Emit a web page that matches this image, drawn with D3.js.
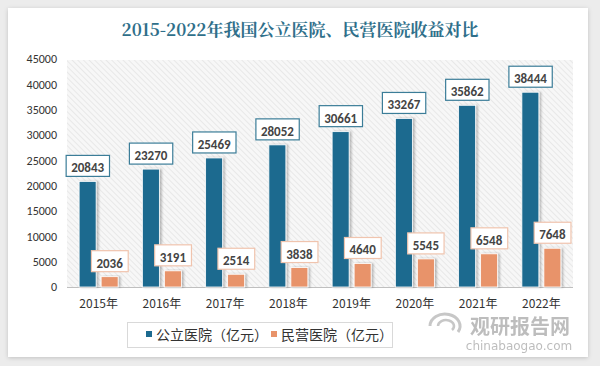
<!DOCTYPE html>
<html><head><meta charset="utf-8">
<script src="https://cdn.jsdelivr.net/npm/d3@7"></script>
<style>
html,body{margin:0;padding:0;background:#ececec;}
svg{display:block;}
</style></head>
<body>
<svg id="c" width="600" height="366"></svg>
<script>
const categories = ["2015年","2016年","2017年","2018年","2019年","2020年","2021年","2022年"];
const publicValues = [20843,23270,25469,28052,30661,33267,35862,38444];
const privateValues = [2036,3191,2514,3838,4640,5545,6548,7648];
const seriesNames = ["公立医院（亿元）","民营医院（亿元）"];
const yTicks = [0,5000,10000,15000,20000,25000,30000,35000,40000,45000];
const title = "2015-2022年我国公立医院、民营医院收益对比";

const svg = d3.select("#c");
const blue = "#1c6a8f", orange = "#e8936a";
const fontCN = "'Microsoft YaHei','Noto Sans CJK SC',sans-serif";

// card
const defs = svg.append("defs");
const f = defs.append("filter").attr("id","sh").attr("x","-10%").attr("y","-10%").attr("width","120%").attr("height","120%");
f.append("feDropShadow").attr("dx",0).attr("dy",1).attr("stdDeviation",2).attr("flood-color","#000").attr("flood-opacity",0.18);
svg.append("rect").attr("x",8).attr("y",8).attr("width",580).attr("height",349).attr("fill","#fff").attr("filter","url(#sh)");

// hatch pattern
const pat = defs.append("pattern").attr("id","hatch").attr("patternUnits","userSpaceOnUse").attr("width",4).attr("height",4).attr("patternTransform","rotate(-45)");
pat.append("rect").attr("width",4).attr("height",4).attr("fill","#f7f7f7");
pat.append("line").attr("x1",0).attr("y1",0).attr("x2",0).attr("y2",4).attr("stroke","#dedede").attr("stroke-width",1.2);

const bf = defs.append("filter").attr("id","bs").attr("x","-30%").attr("y","-10%").attr("width","160%").attr("height","120%");
bf.append("feDropShadow").attr("dx",2).attr("dy",0).attr("stdDeviation",1.2).attr("flood-color","#000").attr("flood-opacity",0.25);

const L = 67, R = 573, T = 59, B = 287;
svg.append("rect").attr("x",L).attr("y",T+1).attr("width",R-L).attr("height",B-T-1).attr("fill","url(#hatch)");

// title
svg.append("text").attr("x",300).attr("y",36).attr("text-anchor","middle")
  .attr("font-family","'Noto Serif CJK SC','Noto Sans CJK SC',serif").attr("font-weight","bold")
  .attr("font-size",17).attr("fill","#2f6f8a").text(title);

const x = d3.scaleBand().domain(categories).range([L,R]);
const y = d3.scaleLinear().domain([0,45000]).range([B,T]);
const bw = 17, gap = 5;

// y axis
const ya = svg.append("g").attr("transform",`translate(${L-4},0)`)
  .call(d3.axisLeft(y).tickValues(yTicks).tickSize(0).tickPadding(6).tickFormat(d3.format("d")));
ya.select(".domain").remove();
ya.selectAll("text").attr("font-family","Calibri,'Liberation Sans','Noto Sans',sans-serif").attr("font-size",12).attr("fill","#333");

// baseline
svg.append("line").attr("x1",L).attr("x2",R).attr("y1",B+0.5).attr("y2",B+0.5).attr("stroke","#bfbfbf");

// x axis
const xa = svg.append("g").attr("transform",`translate(0,${B})`)
  .call(d3.axisBottom(x).tickSize(0).tickPadding(12));
xa.select(".domain").remove();
xa.selectAll("text").attr("font-family",fontCN).attr("font-size",12).attr("fill","#333");

const cx = c => x(c) + x.bandwidth()/2;

// bars
svg.selectAll(".pb").data(categories).enter().append("rect")
  .attr("x",c=>cx(c)-gap/2-bw).attr("width",bw)
  .attr("y",(c,i)=>y(publicValues[i])).attr("height",(c,i)=>B-y(publicValues[i]))
  .attr("fill",blue).attr("stroke","#fff").attr("stroke-width",0.8).attr("filter","url(#bs)");
svg.selectAll(".ob").data(categories).enter().append("rect")
  .attr("x",c=>cx(c)+gap/2).attr("width",bw)
  .attr("y",(c,i)=>y(privateValues[i])).attr("height",(c,i)=>B-y(privateValues[i]))
  .attr("fill",orange).attr("stroke","#fff").attr("stroke-width",0.8).attr("filter","url(#bs)");

// labels
function label(px, val, border){
  const g = svg.append("g");
  const t = g.append("text").attr("x",px).attr("y",y(val)-9).attr("text-anchor","middle")
    .attr("font-family","Calibri,'Liberation Sans','Noto Sans',sans-serif").attr("font-weight","bold")
    .attr("font-size",13).attr("fill","#444").text(val);
  const bb = t.node().getBBox();
  g.insert("rect","text").attr("x",bb.x-5).attr("y",y(val)-26).attr("width",bb.width+10).attr("height",21)
    .attr("fill","#fff").attr("stroke",border).attr("stroke-width",1.2);
}
categories.forEach((c,i)=>{
  label(cx(c)-gap/2-bw/2, publicValues[i], "#3b7d98");
  label(cx(c)+gap/2+bw/2, privateValues[i], "#f0c4ae");
});

// legend
svg.append("rect").attr("x",127.5).attr("y",322.5).attr("width",265).attr("height",25).attr("fill","#fff").attr("stroke","#d9d9d9");
const lg = [{n:seriesNames[0],c:blue,x:146},{n:seriesNames[1],c:orange,x:271}];
lg.forEach(d=>{
  svg.append("rect").attr("x",d.x).attr("y",331).attr("width",6).attr("height",6).attr("fill",d.c);
  svg.append("text").attr("x",d.x+10).attr("y",340).attr("font-family",fontCN).attr("font-size",14).attr("fill","#333").text(d.n);
});

// watermark
const wm = svg.append("g").attr("opacity",0.55);
wm.append("path").attr("d","M 430 326 A 15 12 0 1 1 458 332").attr("fill","none").attr("stroke","#9a9a9a").attr("stroke-width",3);
wm.append("path").attr("d","M 438 326 A 8 6 0 1 1 452 330").attr("fill","none").attr("stroke","#9a9a9a").attr("stroke-width",2.5);
wm.append("text").attr("x",520).attr("y",334).attr("text-anchor","middle").attr("font-family",fontCN).attr("font-weight","bold").attr("font-size",20).attr("fill","#888").text("观研报告网");
wm.append("text").attr("x",519).attr("y",350).attr("text-anchor","middle").attr("font-family","'DejaVu Sans',sans-serif").attr("font-size",12).attr("fill","#888").text("chinabaogao.com");
</script>
</body></html>
